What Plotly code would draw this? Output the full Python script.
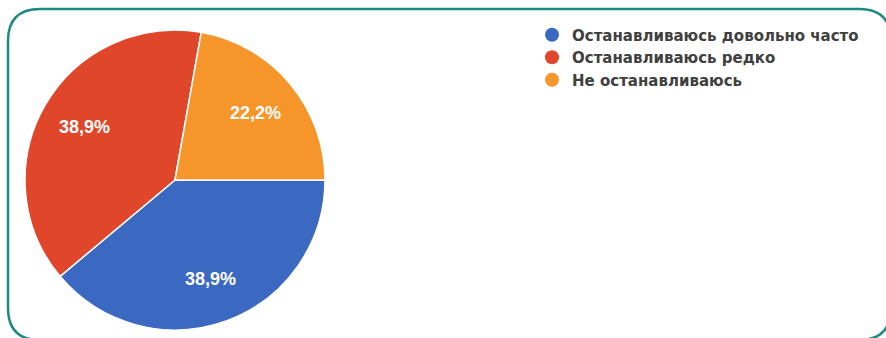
import math
import plotly.graph_objects as go

# Survey answers and their shares (%)
answers = ["Останавливаюсь довольно часто", "Останавливаюсь редко", "Не останавливаюсь"]
shares = [38.9, 38.9, 22.2]
colors = ["#3b69c2", "#e0472a", "#f6952a"]

labels_txt = [f"{v:.1f}%".replace(".", ",") for v in shares]

W, H = 886, 338
cx, cy, r = 175, 180, 150  # pie centre and radius in pixels
start_deg = 90             # first slice starts at 3 o'clock, goes clockwise

fig = go.Figure()
fig.add_trace(go.Pie(
    labels=answers,
    values=shares,
    textinfo="none",
    marker=dict(colors=colors, line=dict(color="white", width=1.5)),
    sort=False,
    direction="clockwise",
    rotation=start_deg,
    showlegend=False,
    domain=dict(x=[(cx - r) / W, (cx + r) / W], y=[(H - cy - r) / H, (H - cy + r) / H]),
    hoverinfo="label+percent",
))

# percentage labels placed at each slice's mid-angle, 70% of the radius out
total = sum(shares)
acc = 0.0
for v, t in zip(shares, labels_txt):
    mid = math.radians(start_deg + 360 * (acc + v / 2) / total)
    acc += v
    px = cx + 0.7 * r * math.sin(mid)
    py = cy - 0.7 * r * math.cos(mid)
    fig.add_annotation(
        x=px / W, y=1 - py / H, xref="paper", yref="paper",
        text=t, showarrow=False, xanchor="center", yanchor="middle",
        font=dict(family="Liberation Sans", size=18, color="white", weight="bold"),
    )

# legend entries with round markers
for name, c in zip(answers, colors):
    fig.add_trace(go.Scatter(
        x=[None], y=[None], mode="markers", name=name,
        marker=dict(symbol="circle", size=14, color=c),
    ))

fig.update_layout(
    width=W, height=H,
    margin=dict(l=0, r=0, t=0, b=0),
    paper_bgcolor="white",
    plot_bgcolor="white",
    xaxis=dict(visible=False),
    yaxis=dict(visible=False),
    legend=dict(
        x=532 / W, y=1 - 18.5 / H, xanchor="left", yanchor="top",
        font=dict(family="DejaVu Sans", size=15, color="#404040", weight="bold"),
        bgcolor="rgba(0,0,0,0)", tracegroupgap=0,
    ),
    shapes=[dict(
        type="path", xref="paper", yref="paper",
        path=(
            "M {x0},{y0a} Q {x0},{y0} {x0b},{y0} L {x1b},{y0} Q {x1},{y0} {x1},{y0a} "
            "L {x1},{y1a} Q {x1},{y1} {x1b},{y1} L {x0b},{y1} Q {x0},{y1} {x0},{y1a} Z"
        ).format(
            x0=8 / W, x1=891 / W, x0b=40 / W, x1b=859 / W,
            y0=1 - 9 / H, y0a=1 - 41 / H, y1=1 - 340 / H, y1a=1 - 308 / H,
        ),
        line=dict(color="#1b8a82", width=2.5),
    )],
)

fig.write_html("out.html")
